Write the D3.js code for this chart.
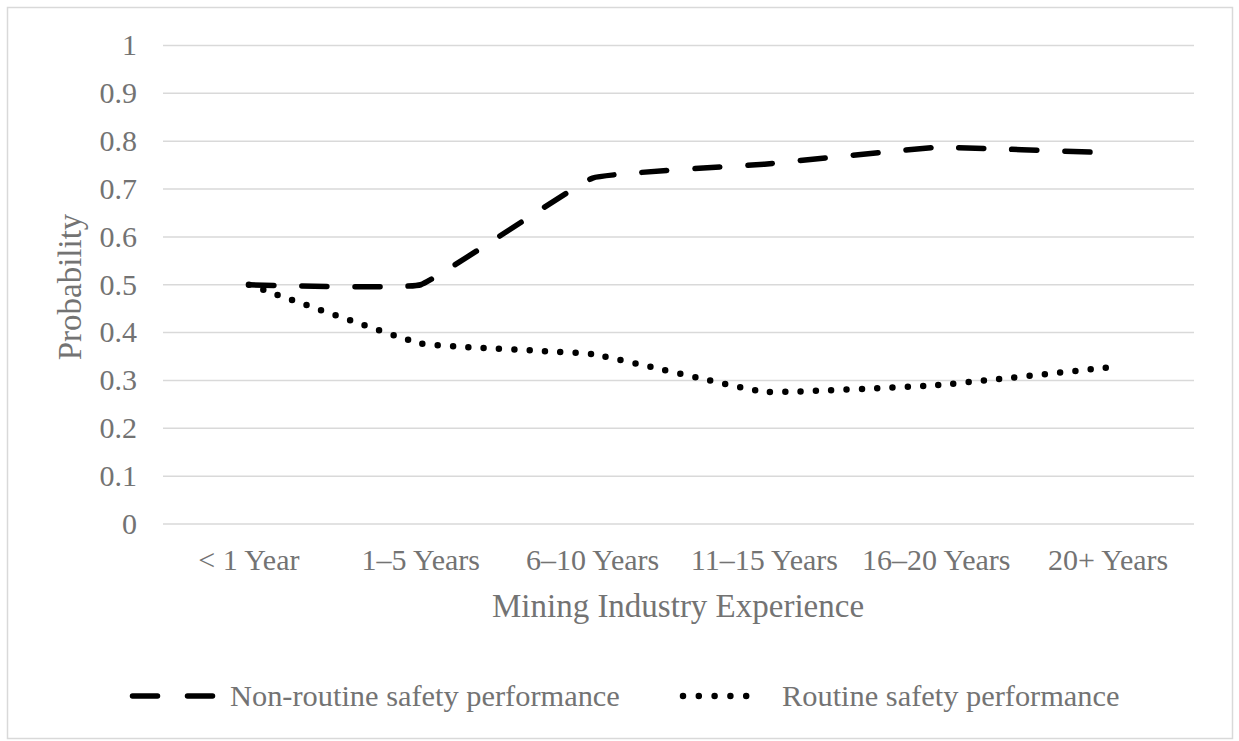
<!DOCTYPE html>
<html>
<head>
<meta charset="utf-8">
<script src="https://cdn.jsdelivr.net/npm/d3@7"></script>
<style>
  html, body { margin: 0; padding: 0; background: #fff; }
  svg { display: block; }
  text { font-family: "Liberation Serif", "Times New Roman", serif; fill: #737373; }
</style>
</head>
<body>
<svg id="chart" width="1239" height="741"></svg>
<script>
const categories = ["< 1 Year", "1\u20135 Years", "6\u201310 Years", "11\u201315 Years", "16\u201320 Years", "20+ Years"];
const nonRoutine = [0.5, 0.5, 0.723, 0.752, 0.787, 0.776];
const routine = [0.5, 0.377, 0.355, 0.276, 0.29, 0.327];
const yTicks = [0, 0.1, 0.2, 0.3, 0.4, 0.5, 0.6, 0.7, 0.8, 0.9, 1];
const seriesNames = ["Non-routine safety performance", "Routine safety performance"];

const textColor = "#737373";
const svg = d3.select("#chart");

// outer border
svg.append("rect").attr("x", 7.5).attr("y", 7.5).attr("width", 1225).attr("height", 731)
  .attr("fill", "#fff").attr("stroke", "#d9d9d9").attr("stroke-width", 1.5);

const plot = { left: 163, right: 1194, top: 45.5, bottom: 524 };

const x = d3.scaleBand().domain(categories).range([plot.left, plot.right]);
const y = d3.scaleLinear().domain([0, 1]).range([plot.bottom, plot.top]);

// gridlines
svg.append("g").selectAll("line").data(yTicks).join("line")
  .attr("x1", plot.left).attr("x2", plot.right)
  .attr("y1", d => y(d)).attr("y2", d => y(d))
  .attr("stroke", "#d9d9d9").attr("stroke-width", 1.5);

// y axis labels
const yAxis = d3.axisLeft(y).tickValues(yTicks).tickSize(0).tickPadding(0)
  .tickFormat(d => d3.format("~g")(d));
const gy = svg.append("g").attr("transform", `translate(${plot.left - 26},0)`).call(yAxis);
gy.select(".domain").remove();
gy.selectAll("text").attr("font-size", 30).attr("fill", textColor)
  .style("font-family", '"Liberation Serif", serif').attr("dy", "0.31em");

// x axis labels
const xAxis = d3.axisBottom(x).tickSize(0).tickPadding(0);
const gx = svg.append("g").call(xAxis);
gx.select(".domain").remove();
gx.selectAll(".tick").attr("transform", d => `translate(${x(d) + x.bandwidth() / 2},570)`);
gx.selectAll("text").attr("font-size", 30).attr("fill", textColor)
  .style("font-family", '"Liberation Serif", serif').attr("y", 0).attr("dy", 0);

// axis titles
svg.append("text").attr("x", (plot.left + plot.right) / 2 - 0.5).attr("y", 617)
  .attr("text-anchor", "middle")
  .attr("font-size", 33).text("Mining Industry Experience");
svg.append("text").attr("transform", `translate(81,287) rotate(-90)`)
  .attr("text-anchor", "middle")
  .attr("font-size", 33).text("Probability");

// lines
const line = d3.line()
  .x((d, i) => x(categories[i]) + x.bandwidth() / 2)
  .y(d => y(d))
  .curve(d3.curveCardinal.tension(0.75));

const styles = [
  { data: nonRoutine, width: 5.5, dash: "25 28" },
  { data: routine, width: 6.5, dash: "0 15.3" }
];
styles.forEach(s => {
  svg.append("path").attr("d", line(s.data))
    .attr("fill", "none").attr("stroke", "#000")
    .attr("stroke-width", s.width).attr("stroke-linecap", "round")
    .attr("stroke-dasharray", s.dash);
});

// legend
const legendY = 696;
const legend = [
  { x1: 132.5, x2: 212.5, tx: 230, name: seriesNames[0], st: { width: 5.5, dash: "25 30" } },
  { x1: 683, x2: 762, tx: 782, name: seriesNames[1], st: { width: 6.5, dash: "0 15.8" } }
];
legend.forEach(l => {
  svg.append("line").attr("x1", l.x1).attr("x2", l.x2).attr("y1", legendY).attr("y2", legendY)
    .attr("stroke", "#000").attr("stroke-width", l.st.width).attr("stroke-linecap", "round")
    .attr("stroke-dasharray", l.st.dash);
  svg.append("text").attr("x", l.tx).attr("y", 706)
    .attr("font-size", 30.4).text(l.name);
});
</script>
</body>
</html>
